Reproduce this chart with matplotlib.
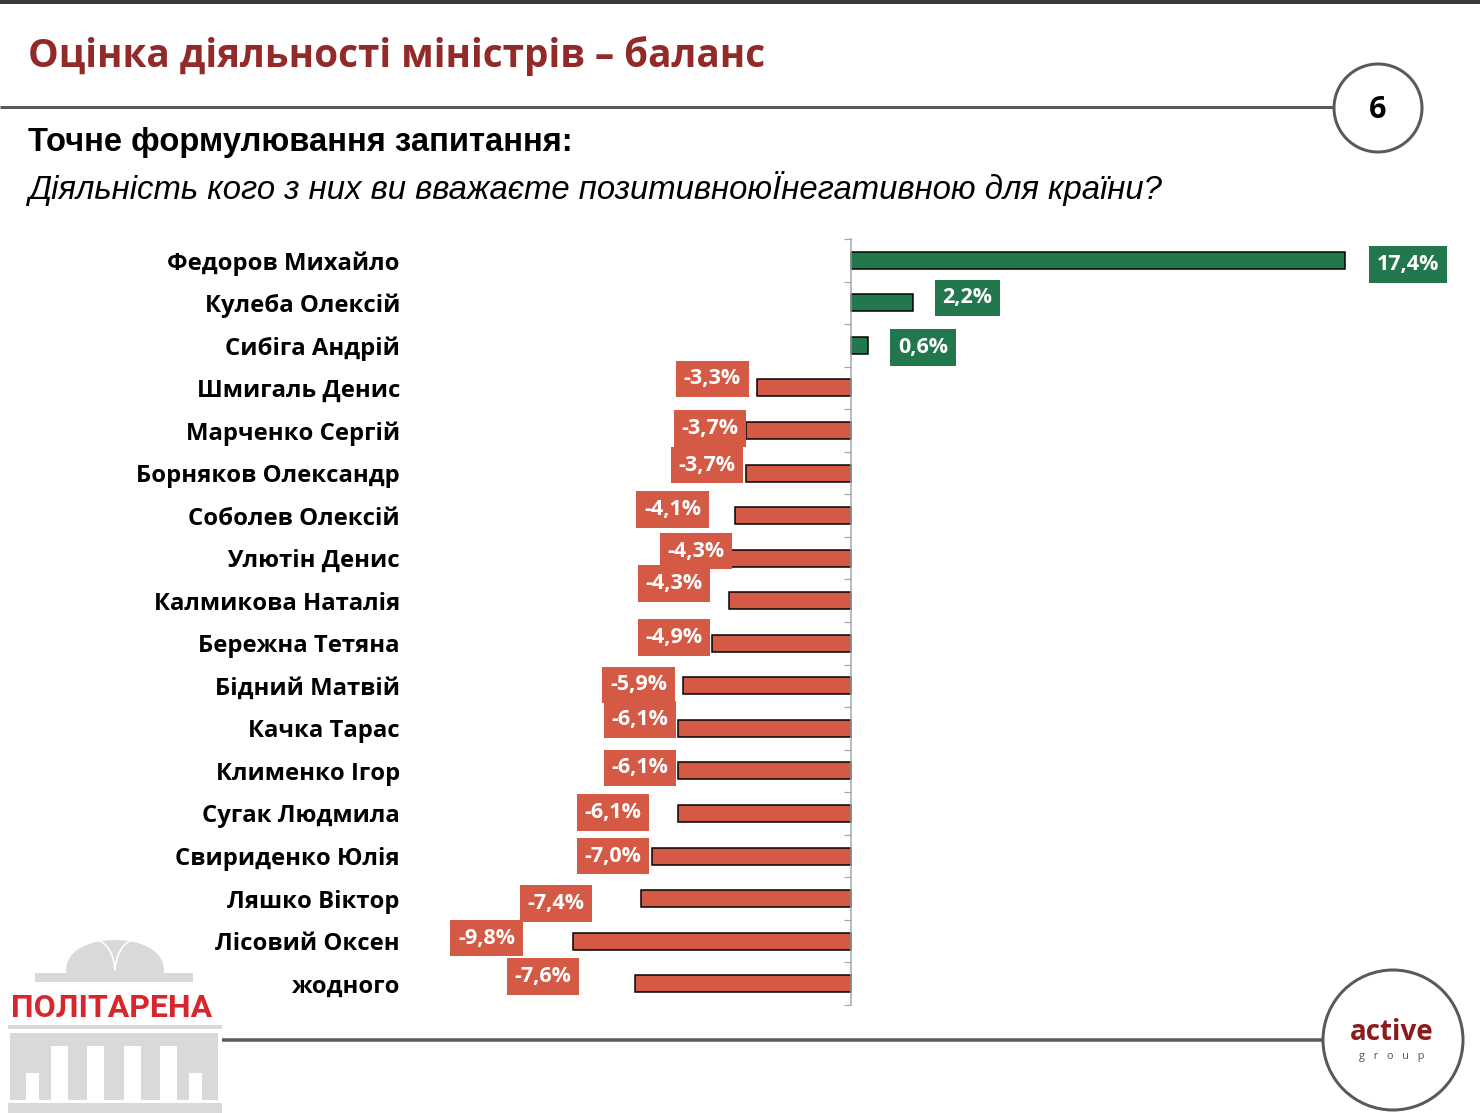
import numpy as np
import matplotlib
matplotlib.use("Agg")
import matplotlib.pyplot as plt
from matplotlib.patches import Rectangle, Circle, Polygon

# ============================================================
# DATA
# ============================================================
NAMES = [
    "Федоров Михайло", "Кулеба Олексій", "Сибіга Андрій", "Шмигаль Денис",
    "Марченко Сергій", "Борняков Олександр", "Соболев Олексій", "Улютін Денис",
    "Калмикова Наталія", "Бережна Тетяна", "Бідний Матвій", "Качка Тарас",
    "Клименко Ігор", "Сугак Людмила", "Свириденко Юлія", "Ляшко Віктор",
    "Лісовий Оксен", "жодного",
]
BALANCE = [17.4, 2.2, 0.6, -3.3, -3.7, -3.7, -4.1, -4.3, -4.3, -4.9,
           -5.9, -6.1, -6.1, -6.1, -7.0, -7.4, -9.8, -7.6]

TITLE = "Оцінка діяльності міністрів – баланс"
SUBTITLE = "Точне формулювання запитання:"
QUESTION = "Діяльність кого з них ви вважаєте позитивноюЇнегативною для країни?"

# label nudges in pixels (box centre relative to bar end / bar centre), as in the slide
LABEL_DX = [63, 54, 55, -45, -36, -39, -62, -33, -55, -38, -45, -38, -38, -65, -39, -85, -86, -92]
LABEL_DY = [4, -5, 2, -9, -2, -8, -6, -7, -17, -6, -1, -9, -3, -1, 0, 5, -3, -7]

# ============================================================
# STYLE
# ============================================================
W, H = 1480, 1113
GREEN = "#23774C"
RED = "#D45A46"
DARK_RED = "#922A2A"
LINE_GREY = "#58595B"
LOGO_GREY = "#D9D9D9"
PX = 0.72  # points per pixel at dpi 100

CALIBRI = ["Open Sans", "DejaVu Sans"]
ARIAL = ["Liberation Sans", "DejaVu Sans"]

fig = plt.figure(figsize=(W / 100, H / 100), dpi=100)

# decoration layer in pixel coordinates
deco = fig.add_axes([0, 0, 1, 1], zorder=0)
deco.set_xlim(0, W)
deco.set_ylim(H, 0)
deco.axis("off")

deco.add_patch(Rectangle((0, 0), W, 4, color="#3A3A3A", lw=0))
deco.plot([0, 1334], [107, 107], color=LINE_GREY, lw=3 * PX, solid_capstyle="butt")
deco.add_patch(Circle((1378, 108), 44, facecolor="white", edgecolor=LINE_GREY, lw=3 * PX))
deco.text(1378, 110, "6", ha="center", va="center", fontsize=22, fontweight="bold",
          family=CALIBRI, color="black")

deco.text(28, 56, TITLE, ha="left", va="center", fontsize=27.8, fontweight="bold",
          family=CALIBRI, color=DARK_RED)
deco.text(28, 143, SUBTITLE, ha="left", va="center", fontsize=23.6, fontweight="bold",
          family=ARIAL, color="black")
deco.text(28, 189, QUESTION, ha="left", va="center", fontsize=23.7, style="italic",
          family=ARIAL, color="black")

# bottom line + active group circle
deco.plot([222, 1323], [1040, 1040], color=LINE_GREY, lw=3.5 * PX, solid_capstyle="butt")
deco.add_patch(Circle((1393, 1040), 70, facecolor="white", edgecolor=LINE_GREY, lw=3 * PX))
deco.text(1392, 1033, "active", ha="center", va="center", fontsize=20, fontweight="bold",
          family=CALIBRI, color="#8E1B1B")
deco.text(1392, 1056, "g   r   o   u   p", ha="center", va="center", fontsize=8,
          family=CALIBRI, color="#555555")

# Politarena logo
t = np.linspace(0, np.pi, 60)
dome = np.column_stack([115 + 49 * np.cos(t), 973 - 33 * np.sin(t) ** 0.8])
deco.add_patch(Polygon(dome, closed=True, color=LOGO_GREY, lw=0))
s = np.linspace(0.1, np.pi / 2, 20)
deco.plot(95 + 20 * np.cos(s), 973 - 33 * np.sin(s), color="white", lw=1.2)
deco.plot(135 - 20 * np.cos(s), 973 - 33 * np.sin(s), color="white", lw=1.2)
deco.add_patch(Rectangle((35, 973), 158, 9, color=LOGO_GREY, lw=0))
deco.text(112, 1008, "ПОЛІТАРЕНА", ha="center", va="center", fontsize=23, fontweight="bold",
          family=["Roboto", "DejaVu Sans"], color="#D8262F")
deco.add_patch(Rectangle((8, 1025), 214, 4, color=LOGO_GREY, lw=0))
deco.add_patch(Rectangle((10, 1033), 208, 67, color=LOGO_GREY, lw=0))
for x0, x1, ytop in [(26, 39, 1073), (51, 68, 1046), (87, 104, 1046),
                     (124, 141, 1046), (160, 177, 1046), (189, 202, 1073)]:
    deco.add_patch(Rectangle((x0, ytop), x1 - x0, 1100 - ytop, color="white", lw=0))
deco.add_patch(Rectangle((8, 1103), 214, 10, color=LOGO_GREY, lw=0))

# ============================================================
# CHART
# ============================================================
x_zero = 851
px_per_unit = 28.4
ax_left, ax_right = 430, 1460
ax_top, ax_bottom = 239, 1005

ax = fig.add_axes([ax_left / W, 1 - ax_bottom / H, (ax_right - ax_left) / W,
                   (ax_bottom - ax_top) / H], zorder=2)
ax.patch.set_alpha(0)
ax.set_xlim((ax_left - x_zero) / px_per_unit, (ax_right - x_zero) / px_per_unit)

y = np.arange(len(NAMES))
colors = [GREEN if v > 0 else RED for v in BALANCE]
ax.barh(y, BALANCE, height=0.4, color=colors, edgecolor="black", linewidth=1.5 * PX, zorder=3)
ax.set_ylim(len(NAMES) - 0.5, -0.5)

for i, v in enumerate(BALANCE):
    label = f"{v:.1f}%".replace(".", ",")
    ax.annotate(label, xy=(v, i), xytext=(LABEL_DX[i] * PX, -LABEL_DY[i] * PX),
                textcoords="offset points", ha="center", va="center",
                fontsize=15.5, fontweight="bold", family=CALIBRI, color="white",
                bbox=dict(boxstyle="square,pad=0.36", facecolor=colors[i], edgecolor="none"),
                zorder=4)

for side in ["top", "right", "bottom"]:
    ax.spines[side].set_visible(False)
ax.spines["left"].set_position(("data", 0))
ax.spines["left"].set_color("#A6A6A6")
ax.spines["left"].set_linewidth(1.5 * PX)
ax.spines["left"].set_zorder(5)
ax.xaxis.set_visible(False)

ax.set_yticks(y)
ax.set_yticklabels(NAMES, fontsize=17.2, fontweight="bold", family=CALIBRI)
ax.set_yticks(np.arange(-0.5, len(NAMES)), minor=True)
ax.tick_params(axis="y", which="major", length=0, pad=(x_zero - 400) * PX)
ax.tick_params(axis="y", which="minor", length=5, width=1.2 * PX, color="#A6A6A6")

fig.savefig("out.png", dpi=100)
